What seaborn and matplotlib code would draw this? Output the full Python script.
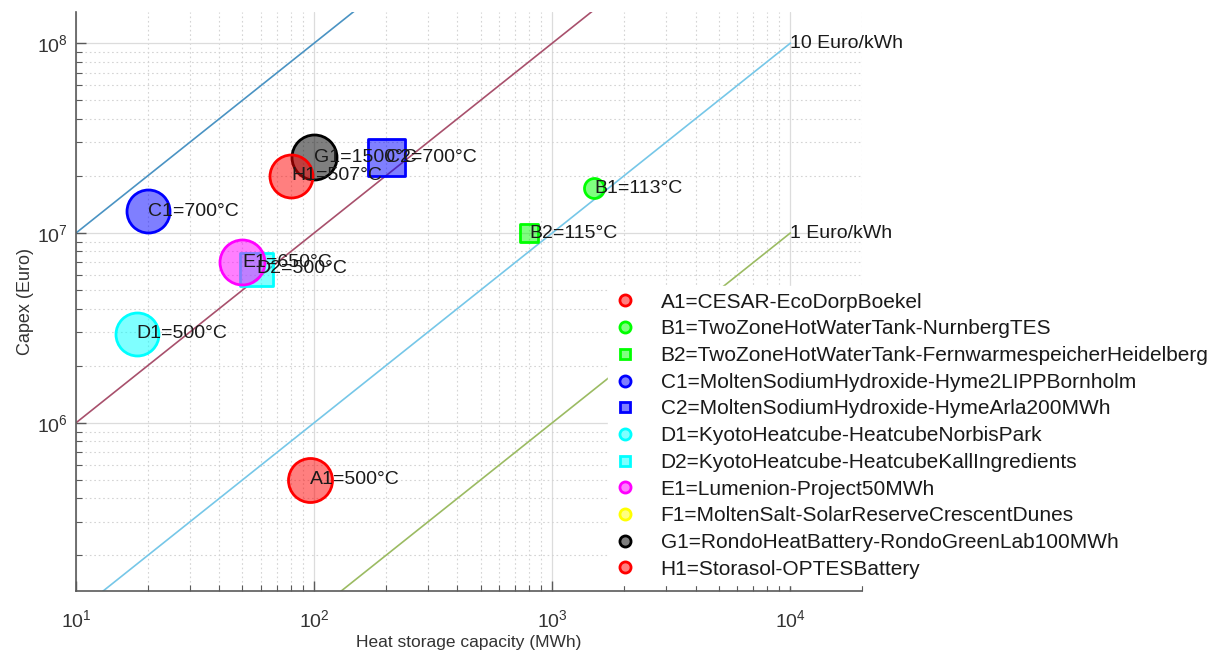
import numpy as np
import pandas as pd
import matplotlib
matplotlib.use("Agg")
import matplotlib.pyplot as plt
from matplotlib.lines import Line2D
from matplotlib.colors import to_rgba
import seaborn as sns

# ---------------- data ----------------
codes = ["A1", "B1", "B2", "C1", "C2", "D1", "D2", "E1", "F1", "G1", "H1"]
project_names = [
    "CESAR-EcoDorpBoekel",
    "TwoZoneHotWaterTank-NurnbergTES",
    "TwoZoneHotWaterTank-FernwarmespeicherHeidelberg",
    "MoltenSodiumHydroxide-Hyme2LIPPBornholm",
    "MoltenSodiumHydroxide-HymeArla200MWh",
    "KyotoHeatcube-HeatcubeNorbisPark",
    "KyotoHeatcube-HeatcubeKallIngredients",
    "Lumenion-Project50MWh",
    "MoltenSalt-SolarReserveCrescentDunes",
    "RondoHeatBattery-RondoGreenLab100MWh",
    "Storasol-OPTESBattery",
]
capacity_mwh = [96, 1500, 800, 20, 200, 18, 57, 50, 2800, 100, 80]
capex_euro = [5.0e5, 1.72e7, 1.0e7, 1.3e7, 2.5e7, 2.95e6, 6.5e6, 7.0e6, 9.0e8, 2.5e7, 2.0e7]
temperature_c = [500, 113, 115, 700, 700, 500, 500, 650, 565, 1500, 507]

# cost reference lines (Euro/kWh)
cost_levels = [1000, 100, 10, 1]
cost_x_range = [10, 1e4]

# ---------------- styling ----------------
marker_shapes = ["o", "o", "s", "o", "s", "o", "s", "o", "o", "o", "o"]
marker_colors = ["#ff0000", "#00ff00", "#00ff00", "#0000ff", "#0000ff", "#00ffff",
                 "#00ffff", "#ff00ff", "#ffff00", "#000000", "#ff0000"]
marker_diam_px = [44, 20, 18, 43, 37, 43, 33, 45, 43, 45, 43]
line_colors = ["#4a93c3", "#a8506c", "#76c7e8", "#9bbb62"]

sns.set_theme(style="white")
plt.rcParams["font.family"] = ["Liberation Sans", "DejaVu Sans"]
plt.rcParams["mathtext.fontset"] = "custom"
plt.rcParams["mathtext.rm"] = "Liberation Sans"
plt.rcParams["mathtext.it"] = "Liberation Sans:italic"

DPI = 100
fig = plt.figure(figsize=(12.15, 6.57), dpi=DPI)
ax = fig.add_axes([76 / 1215, 1 - 591 / 657, (862 - 76) / 1215, (591 - 12) / 657])
ax.set_xscale("log")
ax.set_yscale("log")
ax.set_xlim(10, 2e4)
ax.set_ylim(1.3e5, 1.46e8)
ymin, ymax = ax.get_ylim()

# grid
ax.grid(True, which="major", color="#dcdcdc", linewidth=0.9, linestyle="-")
ax.grid(True, which="minor", color="#d4d4d4", linewidth=0.8, linestyle=(0, (1.5, 2.5)))
ax.set_axisbelow(True)

# cost lines
for lvl, col in zip(cost_levels, line_colors):
    xs = np.array(cost_x_range, dtype=float)
    ys = xs * 1000 * lvl  # MWh -> kWh times Euro/kWh
    sns.lineplot(x=xs, y=ys, ax=ax, color=col, linewidth=1.2, legend=False)
    ytop = ys[-1]
    if ymin <= ytop <= ymax:
        ax.text(xs[-1], ytop, f"{lvl} Euro/kWh", ha="left", va="center",
                fontsize=14, color="#1a1a1a")

# data points
df = pd.DataFrame({"code": codes, "name": project_names, "cap": capacity_mwh,
                   "capex": capex_euro, "temp": temperature_c})
for i, row in df.iterrows():
    d_pt = marker_diam_px[i] * 72 / DPI
    n_before = len(ax.collections)
    sns.scatterplot(x=[row["cap"]], y=[row["capex"]], ax=ax, marker=marker_shapes[i],
                    s=d_pt ** 2, legend=False, zorder=3)
    coll = ax.collections[n_before]
    coll.set_facecolor(to_rgba(marker_colors[i], 0.5))
    coll.set_edgecolor(to_rgba(marker_colors[i], 1.0))
    coll.set_linewidth(2.0)
    coll.set_clip_on(True)
    if ymin <= row["capex"] <= ymax:
        ax.text(row["cap"], row["capex"], f"{row['code']}={row['temp']}°C", ha="left",
                va="center", fontsize=14, color="#1a1a1a", zorder=4)

# spines / ticks
for side in ["top", "right"]:
    ax.spines[side].set_visible(False)
for side in ["left", "bottom"]:
    ax.spines[side].set_color("#5a5a5a")
    ax.spines[side].set_linewidth(1.2)
ax.tick_params(which="both", direction="in", colors="#5a5a5a", labelcolor="#333333",
               labelsize=14, left=True, bottom=True)
ax.tick_params(which="major", length=7, width=1.0)
ax.tick_params(which="minor", length=4, width=0.8)
ax.tick_params(axis="x", pad=13)
ax.tick_params(axis="y", pad=6)

ax.set_xlabel("Heat storage capacity (MWh)", fontsize=12.5, color="#333333", labelpad=3)
ax.set_ylabel("Capex (Euro)", fontsize=13, color="#333333", labelpad=2)

# legend
handles = []
for i, c in enumerate(codes):
    handles.append(Line2D([0], [0], linestyle="none", marker=marker_shapes[i],
                          markersize=8 if marker_shapes[i] == "o" else 7,
                          markerfacecolor=to_rgba(marker_colors[i], 0.5),
                          markeredgecolor=marker_colors[i], markeredgewidth=2.0,
                          label=f"{c}={project_names[i]}"))
leg = fig.legend(handles=handles, loc="upper left",
                 bbox_to_anchor=(598 / 1215, 1 - 276 / 657), frameon=True,
                 fontsize=15, handlelength=1.0, handletextpad=1.2,
                 labelspacing=0.37, borderpad=0.3, framealpha=1.0)
leg.get_frame().set_edgecolor("white")
leg.get_frame().set_facecolor("white")
for t in leg.get_texts():
    t.set_color("#1a1a1a")

fig.savefig("out.png", dpi=DPI)
